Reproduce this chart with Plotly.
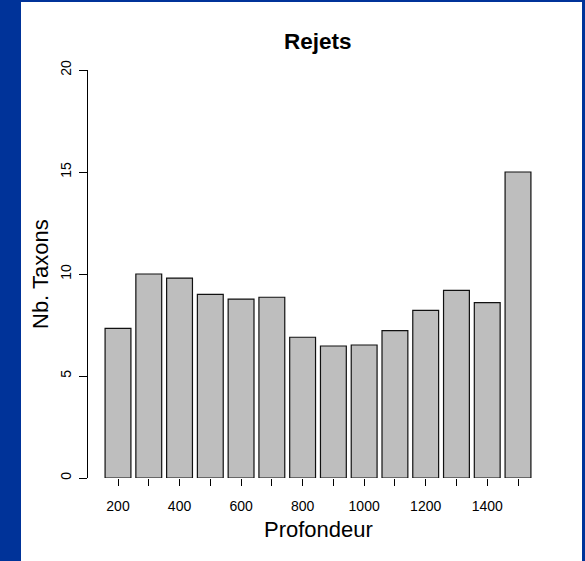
import plotly.graph_objects as go

# Data
depths = [200, 300, 400, 500, 600, 700, 800, 900, 1000, 1100, 1200, 1300, 1400, 1500]
taxons = [7.33, 10.0, 9.8, 9.0, 8.77, 8.86, 6.9, 6.47, 6.52, 7.22, 8.22, 9.2, 8.6, 15.0]
x_tickvals = depths
x_ticktext = ["200", "", "400", "", "600", "", "800", "", "1000", "", "1200", "", "1400", ""]
y_tickvals = [0, 5, 10, 15, 20]
title_text = "Rejets"
x_title = "Profondeur"
y_title = "Nb. Taxons"

W, H = 585, 561
L, R, T, B = 88, 37, 70, 83
pw, ph = W - L - R, H - T - B

def px_x(p):
    return (p - L) / pw

def px_y(p):
    return (H - B - p) / ph

FONT = "Liberation Sans, Arial, sans-serif"
BLUE = "#003399"

fig = go.Figure(go.Bar(
    x=depths, y=taxons,
    marker=dict(color="#BEBEBE", line=dict(color="#111111", width=1.2)),
    width=84,
))

fig.update_layout(
    width=W, height=H,
    margin=dict(l=L, r=R, t=T, b=B, pad=0),
    paper_bgcolor="white", plot_bgcolor="white",
    showlegend=False,
    font=dict(family=FONT, color="black", size=14),
    xaxis=dict(
        range=[102.5, 1597.5], tickvals=x_tickvals, ticktext=x_ticktext,
        ticks="outside", ticklen=7, tickcolor="black", tickwidth=1,
        showline=False, showgrid=False, zeroline=False,
        tickfont=dict(size=14), ticklabelstandoff=8,
    ),
    yaxis=dict(
        range=[0, 20], tickvals=y_tickvals,
        ticks="outside", ticklen=8, tickcolor="black", tickwidth=1,
        showline=True, linecolor="black", linewidth=1,
        showgrid=False, zeroline=False, tickangle=-90,
        tickfont=dict(size=14), ticklabelstandoff=2,
    ),
    annotations=[
        dict(text="<b>" + title_text + "</b>", x=px_x(318), y=px_y(41), xref="paper", yref="paper",
             showarrow=False, font=dict(size=22.5, family=FONT), xanchor="center", yanchor="middle"),
        dict(text=x_title, x=px_x(318), y=px_y(529), xref="paper", yref="paper",
             showarrow=False, font=dict(size=22, family=FONT), xanchor="center", yanchor="middle"),
        dict(text=y_title, x=px_x(40), y=px_y(274), xref="paper", yref="paper", textangle=-90,
             showarrow=False, font=dict(size=22, family=FONT), xanchor="center", yanchor="middle"),
    ],
    shapes=[
        dict(type="rect", xref="paper", yref="paper", x0=px_x(0), x1=px_x(21), y0=px_y(H), y1=px_y(0),
             fillcolor=BLUE, line=dict(width=0), layer="above"),
        dict(type="rect", xref="paper", yref="paper", x0=px_x(0), x1=px_x(W), y0=px_y(2), y1=px_y(0),
             fillcolor=BLUE, line=dict(width=0), layer="above"),
        dict(type="rect", xref="paper", yref="paper", x0=px_x(582), x1=px_x(W), y0=px_y(H), y1=px_y(0),
             fillcolor=BLUE, line=dict(width=0), layer="above"),
    ],
)

fig.write_html("out.html", config={"displayModeBar": False},
               post_script="document.body.style.margin='0';document.body.style.overflow='hidden';")
